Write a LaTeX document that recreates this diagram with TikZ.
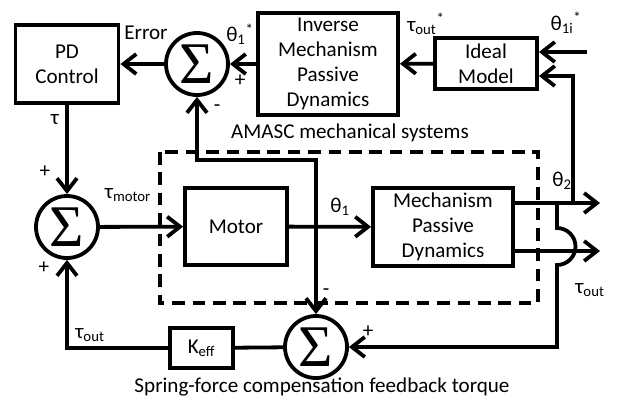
\documentclass[tikz,border=0pt]{standalone}
\usepackage{fontspec}
\setmainfont{Carlito}
\newfontfamily\sigmafont{Liberation Serif}
\usetikzlibrary{arrows.meta,positioning}
\tikzset{
  block/.style={draw,line width=2.7pt,align=center,inner sep=1pt},
  summer/.style={draw,circle,line width=2.7pt,minimum size=1.55cm,inner sep=0pt},
  sig/.style={->,line width=2.7pt},
  lbl/.style={inner sep=0pt}
}
\newcommand{\sumsym}{\sigmafont\fontsize{42}{44}\selectfont Σ}
\begin{document}
\begin{tikzpicture}[x=0.025cm,y=-0.025cm,>={Straight Barb[length=3.2mm,width=5mm]},
  font=\fontsize{15}{17.7}\selectfont]
  \useasboundingbox (0,0) rectangle (623,403);
  % blocks
  \node[block,minimum width=2.575cm,minimum height=1.95cm] (pd) at (67,64) {PD\\Control};
  \node[summer] (sum1) at (197,64) {\sumsym};
  \node[block,minimum width=3.5cm,minimum height=2.55cm] (inv) at (328,64)
    {Inverse\\Mechanism\\Passive\\Dynamics};
  \node[block,minimum width=2.55cm,minimum height=1.275cm] (ideal) at (486,63.5) {Ideal\\Model};
  \node[summer] (sum2) at (67,227) {\sumsym};
  \node[block,minimum width=2.55cm,minimum height=1.925cm] (motor) at (236,226.5) {Motor};
  \node[block,minimum width=3.5cm,minimum height=1.95cm] (mech) at (443,227)
    {Mechanism\\Passive\\Dynamics};
  \node[summer] (sum3) at (316,347) {\sumsym};
  \node[block,minimum width=1.575cm,minimum height=1cm] (keff) at (201.5,348) {K\textsubscript{eff}};
  % AMASC boundary
  \draw[line width=2.7pt,dash pattern=on 9pt off 5.5pt] (160,152) rectangle (538,303);
  % coordinates
  \coordinate (thin) at (587,52);
  \coordinate (thback) at (573,76);
  \coordinate (th2out) at (600,203);
  \coordinate (tauout) at (600,251);
  \coordinate (th1) at (316,227);
  \coordinate (th1up) at (316,160);
  % forward path
  \draw[sig] (thin) -- (ideal.east |- thin);
  \draw[sig] (ideal) -- (inv);
  \draw[sig] (inv) -- (sum1);
  \draw[sig] (sum1) -- (pd);
  \draw[sig] (pd) -- (sum2);
  \draw[sig] (sum2) -- (motor);
  \draw[sig] (motor) -- (mech);
  \draw[sig] (mech.east |- th2out) -- (th2out);
  \draw[sig] (mech.east |- tauout) -- (tauout);
  % feedback paths
  \draw[sig] (th2out -| thback) -- (thback) -- (ideal.east |- thback);
  \draw[sig] (th1) -- (th1up) -- (th1up -| sum1) -- (sum1);
  \draw[sig] (th1) -- (sum3);
  \draw[sig] (557,203) -- (557,228) arc[start angle=90,end angle=-90,radius=0.4625cm]
    -- (557,347) -- (sum3);
  \draw[line width=2.7pt] (sum3) -- (keff);
  \draw[sig] (keff) -- (keff -| sum2) -- (sum2);
  % labels
  \node[lbl] (err) at (146,33) {Error};
  \node[lbl] (th1star) at (240,34) {θ\textsubscript{1}\textsuperscript{*}};
  \node[lbl] (plus1) at (240,81) {+};
  \node[lbl] (minus1) at (217,108) {-};
  \node[lbl] (tauref) at (426,24) {τ\textsubscript{out}\textsuperscript{*}};
  \node[lbl] (thiref) at (566,23) {θ\textsubscript{1i}\textsuperscript{*}};
  \node[lbl] (tau) at (55,120) {τ};
  \node[lbl] (plus2) at (45,172) {+};
  \node[lbl] (taumot) at (128,195) {τ\textsubscript{motor}};
  \node[lbl] (amasc) at (350,133) {AMASC mechanical systems};
  \node[lbl] (th1lbl) at (340,207) {θ\textsubscript{1}};
  \node[lbl] (th2lbl) at (562,181) {θ\textsubscript{2}};
  \node[lbl] (tauoutr) at (590,290) {τ\textsubscript{out}};
  \node[lbl] (plus3) at (44,268) {+};
  \node[lbl] (tauoutl) at (90,335) {τ\textsubscript{out}};
  \node[lbl] (minus3) at (326,292) {-};
  \node[lbl] (plus4) at (368,332) {+};
  \node[lbl] (caption) at (322,387) {Spring-force compensation feedback torque};
\end{tikzpicture}
\end{document}
